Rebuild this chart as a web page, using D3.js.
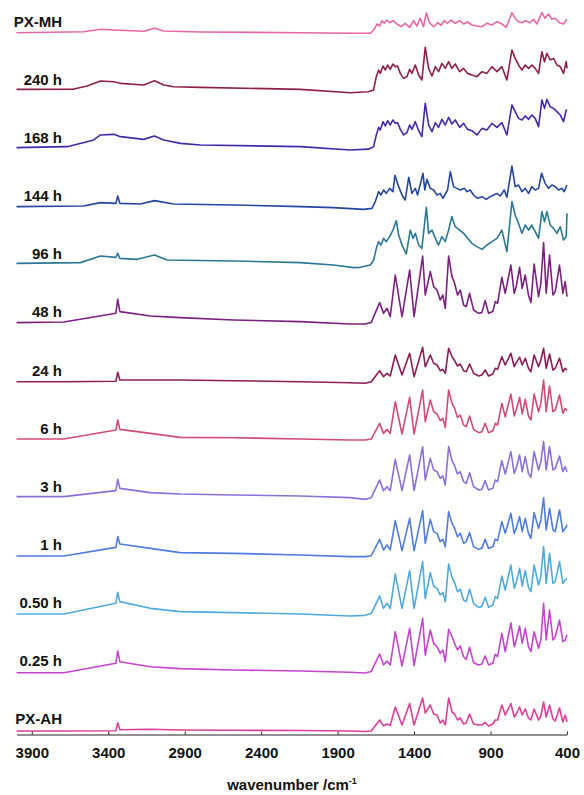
<!DOCTYPE html>
<html>
<head>
<meta charset="utf-8">
<script src="https://cdn.jsdelivr.net/npm/d3@7"></script>
<style>
  body { margin: 0; background: #fff; }
  text { font-family: "Liberation Sans", Arial, sans-serif; font-weight: bold; fill: #111; }
</style>
</head>
<body>
<div id="chart"></div>
<script>
// stacked IR spectra, top to bottom
const labels = ["PX-MH", "240 h", "168 h", "144 h", "96 h", "48 h", "24 h", "6 h", "3 h", "1 h", "0.50 h", "0.25 h", "PX-AH"];
const colors = ["#e766a8", "#8e1f4a", "#4428a8", "#2546a0", "#2b7795", "#7b2080", "#8c1c55",
                "#d24a78", "#8b6fd9", "#4f7be0", "#4fa9dc", "#c445cc", "#dc3f98"];
const xTicks = [3900, 3400, 2900, 2400, 1900, 1400, 900, 400];

// common wavenumber grid (cm-1) for the anhydrate-like spectra
const wnA = [4000, 3690, 3350, 3338, 3324, 3125, 2930, 2580, 2145, 1820, 1720, 1680,
  1625, 1600, 1577, 1556, 1523, 1479, 1429, 1400, 1344, 1327, 1294, 1272, 1250, 1229, 1212, 1196,
  1174, 1152, 1135, 1116, 1098, 1076, 1059, 1037, 1011, 978, 957, 935, 913, 885, 869, 854,
  826, 804, 767, 745, 732, 710, 693, 673, 652, 636, 615, 586, 571, 553, 536, 514, 492, 477,
  449, 427, 412, 400];

// intensities (a.u.) on wnA
const i48 = [0.8, 1.4, 10.1, 24.1, 11.8, 7.4, 5.8, 3.4, 1.8, -0.6, -0.6, 1.0,
  20.8, 10.1, 15.1, 6.8, 48.4, 6.8, 53.4, 6.8, 67.4, 28.4, 51.8, 36.8, 33.4, 23.4, 28.4, 15.1,
  67.4, 46.8, 40.1, 28.4, 33.4, 18.4, 16.8, 30.1, 13.4, 10.1, 10.8, 22.8, 10.1, 11.8, 21.8, 20.1,
  46.1, 30.1, 58.4, 30.1, 36.8, 56.1, 35.1, 48.4, 28.4, 20.8, 59.4, 26.8, 40.1, 80.8, 30.1, 68.4,
  28.4, 31.8, 58.4, 30.1, 41.8, 26.8];
const i24 = [-0.2, -0.2, 0.2, 9.2, 1.5, 1.5, 1.5, 0.8, -0.2, -1.2, -1.8, -0.2,
  10.8, 4.8, 8.2, 5.5, 26.5, 6.5, 28.2, 4.8, 34.2, 14.8, 26.5, 18.2, 16.5, 10.8, 12.2, 8.2,
  33.2, 24.8, 20.8, 15.5, 17.5, 10.8, 9.8, 17.5, 8.2, 5.5, 6.5, 11.5, 5.5, 7.5, 13.2, 12.2,
  24.8, 16.5, 28.2, 14.8, 18.8, 24.2, 16.5, 23.2, 13.2, 9.8, 26.5, 14.8, 21.5, 33.2, 13.2, 27.5,
  11.5, 13.2, 23.2, 9.8, 13.2, 11.5];
const i6 = [0.6, 0.6, 9.6, 19.6, 10.2, 6.2, 2.2, 1.9, 0.6, -0.4, -0.4, 0.5,
  16.2, 6.2, 10.2, 6.2, 37.9, 5.6, 42.2, 5.6, 49.6, 17.9, 39.6, 27.9, 25.6, 18.9, 21.2, 12.2,
  49.6, 36.2, 31.2, 22.2, 24.6, 14.6, 12.9, 23.6, 10.2, 6.9, 7.9, 16.2, 6.9, 8.9, 16.2, 14.6,
  36.2, 22.9, 45.6, 23.6, 29.6, 42.2, 25.6, 40.2, 23.6, 19.6, 45.6, 27.9, 36.2, 59.6, 27.9, 53.6,
  27.9, 29.6, 44.6, 26.2, 31.2, 28.9];
const i3 = [1.0, 1.0, 7.0, 18.3, 9.3, 5.0, 3.7, 2.7, 1.7, 0, -1.7, 0,
  17.7, 7.0, 11.0, 7.0, 38.3, 7.0, 42.7, 7.0, 51.0, 17.7, 39.3, 27.7, 26.0, 19.3, 21.7, 12.7,
  51.0, 37.0, 31.7, 23.7, 26.0, 16.0, 14.3, 25.0, 11.0, 7.7, 8.3, 17.0, 7.7, 9.3, 17.7, 16.0,
  37.0, 23.7, 46.0, 24.3, 29.3, 42.7, 26.0, 41.0, 24.3, 20.3, 46.0, 27.7, 36.0, 56.0, 27.7, 51.0,
  27.7, 29.3, 41.7, 26.0, 31.0, 26.0];
const i1 = [-0.3, -0.3, 8.4, 19.1, 11.8, 7.4, 3.1, 2.4, 0.8, -0.9, -0.9, 0,
  16.4, 5.8, 10.8, 5.8, 35.1, 5.1, 37.4, 5.1, 45.1, 12.4, 36.4, 24.1, 22.4, 14.1, 16.4, 9.1,
  44.1, 32.4, 27.4, 19.1, 22.4, 12.4, 14.1, 23.1, 9.1, 6.4, 7.4, 16.4, 7.4, 9.1, 16.4, 15.1,
  34.1, 22.4, 42.4, 22.4, 27.4, 39.1, 24.1, 37.4, 22.4, 17.4, 43.1, 27.4, 35.8, 58.0, 25.8, 47.4,
  25.8, 24.1, 45.8, 24.1, 27.4, 30.8];
const i050 = [-0.2, -0.2, 10.5, 21.5, 12.2, 5.5, 2.2, 1.2, -0.2, -2.2, -1.5, 0.3,
  17.8, 5.5, 10.5, 5.5, 39.8, 5.5, 43.2, 5.5, 52.2, 15.5, 41.2, 27.8, 25.5, 18.8, 21.2, 12.2,
  49.8, 36.5, 31.2, 22.2, 24.5, 13.8, 12.2, 24.5, 10.5, 6.5, 7.2, 16.5, 6.5, 8.8, 17.2, 15.5,
  37.8, 23.8, 48.8, 25.5, 31.2, 45.5, 27.8, 43.2, 26.5, 22.2, 48.8, 28.8, 37.2, 67.2, 30.5, 60.5,
  30.5, 32.2, 52.2, 30.5, 33.8, 35.5];
const i025 = [-0.8, -0.8, 8.6, 20.9, 10.2, 5.2, 3.3, 1.9, 0.9, -0.3, -1.1, 0.5,
  17.9, 6.9, 10.9, 6.9, 40.2, 5.9, 43.6, 6.2, 53.6, 16.9, 41.9, 28.6, 25.2, 18.6, 21.9, 10.2,
  42.6, 35.2, 28.6, 21.9, 25.9, 15.2, 12.6, 24.6, 9.2, 6.9, 7.9, 15.9, 6.9, 8.6, 17.6, 15.2,
  38.6, 20.2, 49.2, 25.2, 31.9, 45.9, 28.6, 43.6, 25.2, 20.2, 40.2, 23.6, 31.9, 68.6, 31.9, 61.9,
  31.9, 35.2, 51.9, 30.2, 31.9, 36.9];
const iAH = [-1.0, -1.0, -0.7, 7.3, 0.3, 0.7, 0, -0.3, -0.5, -1.0, -1.5, -1.0,
  10, 4, 6, 4.5, 23, 5, 26.5, 5, 32, 17, 25, 16, 15, 7, 10, 5,
  32, 18, 16, 10, 12, 6, 7, 16, 6, 5, 5, 7.5, 4, 6, 10, 10,
  25, 15, 26.5, 13, 16, 23, 15, 21, 12, 10, 21, 10, 14, 28, 13, 25,
  11, 9, 22, 8, 15, 8];

// monohydrate-like spectra as [wavenumber, intensity] pairs
const pxMH = [[4000, 0.3], [3560, 1.3], [3451, 3.7], [3364, 3.0], [3167, 1.7], [3098, 4.7], [3037, 2.0],
  [2797, 1.0], [2144, 0.3], [1817, -0.3], [1686, -0.3], [1660, 3.7], [1643, 9.0], [1625, 7.0],
  [1610, 12.3], [1595, 9.7], [1577, 13.0], [1560, 10.3], [1538, 12.3], [1512, 9.0], [1486, 6.3],
  [1458, 9.7], [1429, 5.7], [1403, 12.3], [1381, 7.0], [1360, 14.7], [1338, 6.3], [1320, 20.3],
  [1299, 10.3], [1272, 6.3], [1246, 10.3], [1224, 7.7], [1203, 12.3], [1181, 9.7], [1159, 13.0],
  [1131, 9.7], [1102, 12.3], [1076, 9.0], [1050, 11.0], [1022, 8.0], [989, 7.0], [957, 6.3],
  [924, 9.7], [891, 8.0], [858, 11.3], [826, 9.0], [797, 5.7], [760, 20.3], [739, 14.7],
  [717, 11.3], [695, 10.3], [673, 12.3], [641, 10.3], [619, 13.7], [597, 9.0], [564, 20.3],
  [543, 14.7], [521, 19.0], [499, 13.7], [477, 14.7], [449, 10.3], [423, 9.0], [400, 13.7]];
const h240 = [[4000, 1.75], [3625, 2.0], [3538, 5.1], [3451, 10.1], [3364, 9.4], [3320, 7.75],
  [3168, 6.1], [3098, 10.4], [3037, 6.1], [2972, 4.4], [2797, 3.75], [2144, 1.75], [1817, -1.6],
  [1700, -0.6], [1665, 1.1], [1647, 14.4], [1632, 21.1], [1621, 17.7], [1603, 25.1], [1588, 21.1],
  [1573, 26.1], [1556, 21.7], [1538, 27.1], [1523, 24.4], [1508, 25.1], [1490, 17.7], [1468, 12.7],
  [1447, 14.4], [1429, 21.7], [1414, 17.7], [1392, 26.1], [1370, 16.1], [1349, 11.1], [1327, 43.7],
  [1305, 22.7], [1283, 15.1], [1261, 24.4], [1240, 19.4], [1218, 27.7], [1196, 22.7], [1174, 29.4],
  [1153, 22.7], [1131, 27.1], [1102, 19.4], [1076, 22.7], [1050, 17.7], [1022, 16.1], [989, 14.4],
  [956, 19.4], [924, 17.7], [891, 24.4], [858, 19.4], [826, 24.4], [793, 11.1], [760, 41.1],
  [739, 32.7], [717, 26.1], [695, 21.1], [673, 26.1], [651, 22.7], [630, 26.1], [608, 22.7],
  [586, 17.7], [564, 39.4], [547, 29.4], [532, 37.7], [510, 31.1], [488, 32.7], [466, 26.1],
  [444, 24.4], [423, 17.7], [405, 29.4], [400, 22.7]];
const h168 = [[4000, 1.5], [3669, 2.5], [3538, 7.5], [3495, 9.2], [3451, 14.2], [3364, 14.8],
  [3320, 12.5], [3168, 9.8], [3098, 13.2], [3037, 9.2], [2928, 5.8], [2797, 4.2], [2144, 2.5],
  [1817, -0.8], [1700, 0], [1665, 2.5], [1647, 14.2], [1632, 21.8], [1621, 19.2], [1603, 27.5],
  [1588, 23.2], [1573, 28.5], [1556, 24.2], [1538, 29.2], [1523, 25.8], [1508, 26.5], [1490, 19.8],
  [1468, 14.2], [1447, 16.5], [1429, 24.2], [1414, 19.8], [1392, 27.5], [1370, 18.5], [1349, 12.5],
  [1327, 45.8], [1305, 24.2], [1283, 17.5], [1261, 26.5], [1240, 21.8], [1218, 29.8], [1196, 24.2],
  [1174, 31.8], [1153, 25.2], [1131, 29.2], [1102, 21.8], [1076, 25.8], [1050, 19.8], [1022, 18.5],
  [989, 14.2], [956, 20.8], [924, 19.2], [891, 25.8], [858, 21.8], [826, 26.5], [793, 14.2],
  [760, 44.2], [739, 37.5], [717, 30.8], [695, 29.2], [673, 33.2], [651, 29.8], [630, 34.2],
  [608, 30.8], [586, 22.5], [564, 49.2], [547, 40.8], [532, 49.8], [510, 42.5], [488, 40.8],
  [466, 37.5], [444, 34.2], [423, 27.5], [405, 39.2], [400, 38.5]];
const h144 = [[4000, 0.6], [3561, 1.25], [3451, 4.6], [3350, 3.9], [3338, 11.25], [3324, 3.9],
  [3190, 3.25], [3098, 6.6], [2972, 3.25], [2580, 2.25], [2144, 0.6], [1928, -0.4], [1730, -2.1],
  [1675, -1.1], [1654, 5.6], [1632, 15.6], [1617, 12.25], [1599, 17.25], [1582, 13.9], [1560, 18.9],
  [1538, 15.6], [1525, 32], [1501, 20.6], [1479, 12.25], [1458, 7.25], [1435, 30], [1414, 13.9],
  [1392, 18.9], [1377, 12.25], [1342, 33.9], [1330, 17.25], [1316, 28], [1294, 18.9], [1272, 17.25],
  [1250, 12.25], [1229, 13.9], [1211, 8.9], [1181, 17.25], [1163, 35.6], [1142, 20.6], [1120, 18.9],
  [1098, 17.25], [1072, 18.9], [1054, 15.6], [1033, 17.25], [1011, 12.25], [985, 8.9], [956, 10.6],
  [928, 7.9], [902, 10.6], [880, 12.25], [858, 13.9], [837, 11.25], [810, 17.25], [793, 10],
  [760, 41.25], [739, 20.6], [717, 22.25], [695, 15.6], [673, 18.9], [651, 13.9], [630, 20.6],
  [608, 17.25], [586, 18.9], [566, 34], [543, 23.9], [521, 18.9], [499, 22.25], [477, 20.6],
  [455, 17.25], [434, 18.9], [418, 15.6], [401, 22.25]];
const h96 = [[4000, 2.0], [3582, 2.7], [3451, 9.3], [3350, 8.0], [3338, 12.0], [3324, 7.0],
  [3211, 6.0], [3098, 10.3], [3015, 5.3], [2580, 4.3], [2144, 2.7], [1928, 0.3], [1795, -2.3],
  [1752, -2.0], [1686, 0.3], [1664, 5.3], [1647, 17.0], [1632, 23.7], [1617, 20.3], [1599, 27.0],
  [1582, 23.7], [1560, 28.7], [1538, 35.3], [1516, 44.7], [1501, 30.3], [1479, 20.3], [1451, 11.3],
  [1425, 35.3], [1407, 27.0], [1392, 32.0], [1370, 20.3], [1349, 17.0], [1320, 58.0], [1305, 32.0],
  [1283, 35.3], [1261, 27.0], [1240, 20.3], [1218, 28.7], [1196, 23.7], [1174, 35.3], [1153, 48.7],
  [1131, 38.7], [1102, 35.3], [1076, 32.0], [1050, 27.0], [1022, 22.0], [989, 18.7], [956, 16.0],
  [924, 20.3], [891, 23.7], [858, 27.0], [826, 35.3], [793, 13.7], [760, 63.7], [739, 50.3],
  [717, 42.0], [695, 32.0], [673, 40.3], [651, 35.3], [630, 40.3], [608, 33.7], [586, 27.0],
  [564, 53.7], [547, 43.7], [532, 53.7], [510, 40.3], [488, 37.0], [466, 32.0], [444, 38.7],
  [423, 25.3], [405, 28.7], [400, 52.0]];

const spectra = [pxMH, h240, h168, h144, h96,
  d3.zip(wnA, i48), d3.zip(wnA, i24), d3.zip(wnA, i6), d3.zip(wnA, i3),
  d3.zip(wnA, i1), d3.zip(wnA, i050), d3.zip(wnA, i025), d3.zip(wnA, iAH)];

const width = 584, height = 795;
const svg = d3.select("#chart").append("svg")
    .attr("width", width)
    .attr("height", height);

// reversed wavenumber axis
const x = d3.scaleLinear().domain([4000, 400]).range([16.5, 567]);
// baseline of each trace
const yBase = d3.scalePoint().domain(labels).range([33, 730]);
const yInt = d3.scaleLinear().domain([0, 100]).range([0, -100]);

labels.forEach((lab, i) => {
  const line = d3.line()
      .x(d => x(d[0]))
      .y(d => yBase(lab) + yInt(d[1]));
  svg.append("path")
      .datum(spectra[i])
      .attr("d", line)
      .attr("fill", "none")
      .attr("stroke", colors[i])
      .attr("stroke-width", 1.6)
      .attr("stroke-linejoin", "round");
  svg.append("text")
      .attr("x", 62)
      .attr("y", yBase(lab) - 6)
      .attr("text-anchor", "end")
      .style("font-size", "15px")
      .text(lab);
});

const axis = svg.append("g")
    .attr("transform", "translate(0,734.5)")
    .call(d3.axisBottom(x).tickValues(xTicks).tickFormat(d3.format("d"))
      .tickSize(-3).tickSizeOuter(0).tickPadding(13));
axis.select(".domain").attr("stroke", "#222");
axis.selectAll(".tick line").attr("stroke", "#222");
axis.selectAll(".tick text")
    .style("font-size", "15px")
    .style("font-family", "'Liberation Sans', Arial, sans-serif")
    .style("font-weight", "bold")
    .attr("fill", "#111");

const title = svg.append("text")
    .attr("x", 292)
    .attr("y", 790)
    .attr("text-anchor", "middle")
    .style("font-size", "15px");
title.append("tspan").text("wavenumber /cm");
title.append("tspan").attr("dy", -6).style("font-size", "9px").text("-1");
</script>
</body>
</html>
